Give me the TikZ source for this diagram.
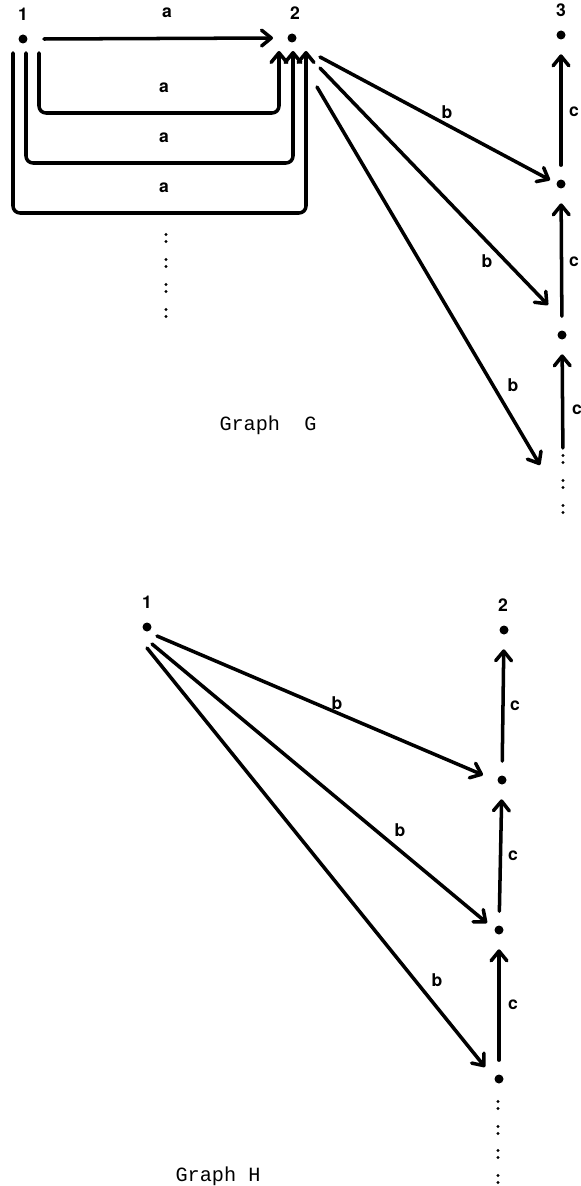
\documentclass[tikz,border=0pt]{standalone}
\usepackage{fontspec}
\setsansfont{TeX Gyre Heros}
\setmonofont{Liberation Mono}
\usetikzlibrary{arrows.meta,calc}

\begin{document}
\begin{tikzpicture}[x=0.02cm,y=-0.02cm,line join=round,line cap=round,
  vtx/.style={circle,fill,inner sep=0pt,minimum size=0.18cm},
  lbl/.style={font=\sffamily\bfseries\fontsize{10}{11}\selectfont,inner sep=0pt},
  edge/.style={line width=2pt,-{Straight Barb[length=5.5pt,width=9pt,round]}},
  upedge/.style={edge,shorten <=0.28cm,shorten >=0.29cm},
  ttl/.style={font=\ttfamily\fontsize{11.5}{12}\selectfont,inner sep=0pt}]
  \useasboundingbox (0,0) rectangle (581,1186);
  % graph G
  \node[vtx] (g1) at (23,39) {};
  \node[vtx] (g2) at (292,38) {};
  \node[vtx] (g3) at (561,35) {};
  \node[vtx] (g4) at (561,184) {};
  \node[vtx] (g5) at (562,335) {};
  \coordinate (g6) at (563,462);
  \node[lbl] (gl1) at (23,14) {1};
  \node[lbl] (gl2) at (295,13) {2};
  \node[lbl] (gl3) at (561,10) {3};
  \draw[edge] ($(g1)+(21,0)$) -- ($(g2)+(-19,0)$);
  \draw[edge,rounded corners=4] ($(g1)+(16,14)$) |- ($(g2)+(-13,75)$) -- ($(g2)+(-13,13)$);
  \draw[edge,rounded corners=4] ($(g1)+(3,14)$) |- ($(g2)+(1,125)$) -- ($(g2)+(1,13)$);
  \draw[edge,rounded corners=4] ($(g1)+(-10,14)$) |- ($(g2)+(14,175)$) -- ($(g2)+(14,13)$);
  \node[lbl] (ga1) at (167,13) {a};
  \node[lbl] (ga2) at (164,88) {a};
  \node[lbl] (ga3) at (164,138) {a};
  \node[lbl] (ga4) at (164,188) {a};
  \draw[edge] ($(g2)+(28,19)$) -- ($(g4)+(-11,-4)$);
  \draw[edge] ($(g2)+(28,30)$) -- ($(g5)+(-14,-30)$);
  \draw[edge] ($(g2)+(25,49)$) -- ($(g6)+(-23,3)$);
  \node[lbl] (gb1) at (447,112) {b};
  \node[lbl] (gb2) at (487,261) {b};
  \node[lbl] (gb3) at (513,385) {b};
  \draw[upedge] (g4) -- (g3);
  \draw[upedge] (g5) -- (g4);
  \draw[upedge] (g6) -- (g5);
  \node[lbl] (gc1) at (574,112) {c};
  \node[lbl] (gc2) at (574,262) {c};
  \node[lbl] (gc3) at (577,410) {c};
  \foreach \y in {238,263,288,313}
    \fill (166,\y-3.5) circle (1.6) (166,\y+3.5) circle (1.6);
  \foreach \y in {459,484,509}
    \fill (563,\y-3.5) circle (1.6) (563,\y+3.5) circle (1.6);
  \node[ttl] (gt) at (268,425) {Graph\ \ G};
  % graph H
  \node[vtx] (h1) at (147,627) {};
  \node[vtx] (h2) at (504,630) {};
  \node[vtx] (h3) at (502,780) {};
  \node[vtx] (h4) at (499,930) {};
  \node[vtx] (h5) at (499,1079) {};
  \node[lbl] (hl1) at (147,602) {1};
  \node[lbl] (hl2) at (503,605) {2};
  \draw[edge] ($(h1)+(10,9)$) -- ($(h3)+(-19,-5)$);
  \draw[edge] ($(h1)+(5,17)$) -- ($(h4)+(-12,-7)$);
  \draw[edge] ($(h1)+(0,21)$) -- ($(h5)+(-14,-12)$);
  \node[lbl] (hb1) at (337,703) {b};
  \node[lbl] (hb2) at (400,830) {b};
  \node[lbl] (hb3) at (437,980) {b};
  \draw[upedge] (h3) -- (h2);
  \draw[upedge] (h4) -- (h3);
  \draw[upedge] (h5) -- (h4);
  \node[lbl] (hc1) at (515,706) {c};
  \node[lbl] (hc2) at (513,856) {c};
  \node[lbl] (hc3) at (513,1005) {c};
  \foreach \y in {1105,1130,1154,1179}
    \fill (498,\y-3.5) circle (1.6) (498,\y+3.5) circle (1.6);
  \node[ttl] (ht) at (218,1176) {Graph H};
\end{tikzpicture}
\end{document}
